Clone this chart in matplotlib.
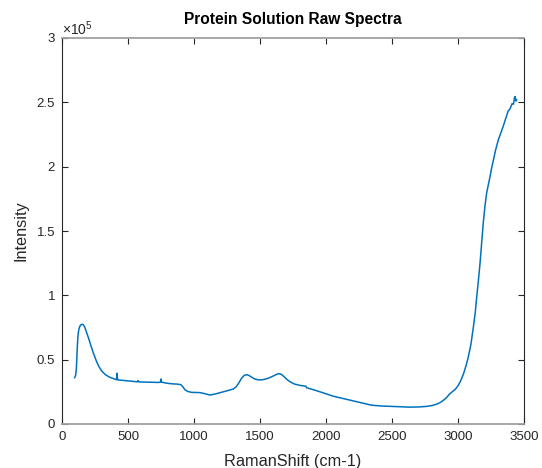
import matplotlib
matplotlib.use("Agg")
import matplotlib.pyplot as plt
from matplotlib.ticker import FuncFormatter

plt.rcParams['font.family'] = ['Liberation Sans', 'DejaVu Sans']
plt.rcParams['mathtext.fontset'] = 'custom'
plt.rcParams['mathtext.rm'] = 'Liberation Sans'
plt.rcParams['mathtext.it'] = 'Liberation Sans'

# values
raman_shift = [96, 100, 104, 108, 112, 116, 120, 125, 131, 138, 146, 155, 163, 172,
               185, 202, 220, 240, 260, 278, 300, 328, 360, 404, 413, 417, 421, 450,
               505, 570, 576, 582, 650, 733, 745, 750, 755, 800, 840, 873, 900, 915,
               932, 955, 983, 1045, 1080, 1121, 1160, 1197, 1250, 1298, 1320, 1340,
               1360, 1380, 1399, 1415, 1430, 1460, 1487, 1510, 1530, 1563, 1590, 1610,
               1630, 1646, 1662, 1680, 1705, 1727, 1760, 1803, 1848, 1852, 1900, 1955,
               2055, 2207, 2300, 2346, 2420, 2510, 2636, 2712, 2763, 2800, 2835, 2864,
               2890, 2914, 2935, 2952, 2980, 3002, 3020, 3040, 3060, 3078, 3098, 3116,
               3130, 3141, 3155, 3167, 3180, 3192, 3205, 3217, 3230, 3242, 3255, 3268,
               3285, 3305, 3325, 3343, 3360, 3381, 3392, 3400, 3410, 3420, 3428, 3433,
               3438, 3445]
intensity = [36000, 37000, 38500, 42000, 50000, 60000, 67000, 72000, 74800, 76500,
             77300, 77500, 77000, 75300, 71500, 66500, 60500, 54500, 49000, 45000,
             41300, 38400, 36400, 34800, 34400, 39400, 34300, 34000, 33400, 32800,
             33800, 32700, 32500, 32300, 32500, 35000, 32500, 31600, 31200, 31000,
             30600, 29000, 26600, 25200, 24600, 24400, 23600, 22500, 23300, 24300,
             25800, 27200, 29000, 32000, 35500, 37800, 38300, 37800, 36800, 35000,
             34300, 34300, 34600, 35600, 36800, 37800, 38800, 39100, 38600, 37000,
             34500, 32900, 31100, 30000, 29400, 28200, 26800, 25000, 21600, 17900,
             15600, 14600, 14000, 13600, 13100, 13300, 13700, 14300, 15300, 16600,
             18500, 20600, 23200, 24600, 27000, 30000, 33500, 38500, 45000, 52000,
             62000, 75000, 86000, 98000, 112000, 125000, 142000, 157000, 170000,
             179500, 186000, 192000, 199000, 205000, 213000, 220700, 226500, 231500,
             237000, 243500, 244500, 246500, 249000, 248500, 253500, 254500, 251000,
             251800]

x_ticks = [0, 500, 1000, 1500, 2000, 2500, 3000, 3500]
y_ticks = [0, 50000, 100000, 150000, 200000, 250000, 300000]

fig = plt.figure(figsize=(5.42, 4.68), dpi=100)
ax = fig.add_axes([62 / 542, 1 - 424 / 468, 462 / 542, 386 / 468])

ax.plot(raman_shift, intensity, color='#0072BD', lw=1.1)

ax.set_xlim(0, 3500)
ax.set_ylim(0, 300000)
ax.set_xticks(x_ticks)
ax.set_yticks(y_ticks)
ax.yaxis.set_major_formatter(FuncFormatter(lambda v, p: f"{v / 1e5:g}"))

dark = '#262626'
ax.tick_params(direction='in', top=True, right=True, length=4, width=0.8,
               colors=dark, labelsize=9.5, pad=5)
for side in ['left', 'right']:
    ax.spines[side].set_color(dark)
    ax.spines[side].set_linewidth(0.8)
for side in ['top', 'bottom']:
    ax.spines[side].set_color('#a0a0a0')
    ax.spines[side].set_linewidth(1.3)

ax.set_title("Protein Solution Raw Spectra", fontsize=11.2, fontweight='bold', pad=10)
ax.set_xlabel("RamanShift (cm-1)", fontsize=11.7, color=dark, labelpad=8)
ax.set_ylabel("Intensity", fontsize=11.7, color=dark, labelpad=6)
ax.text(0.0, 1.0, r"$\times10^{5}$", transform=ax.transAxes, fontsize=10,
        color=dark, ha='left', va='bottom')

fig.savefig("out.png", dpi=100)
